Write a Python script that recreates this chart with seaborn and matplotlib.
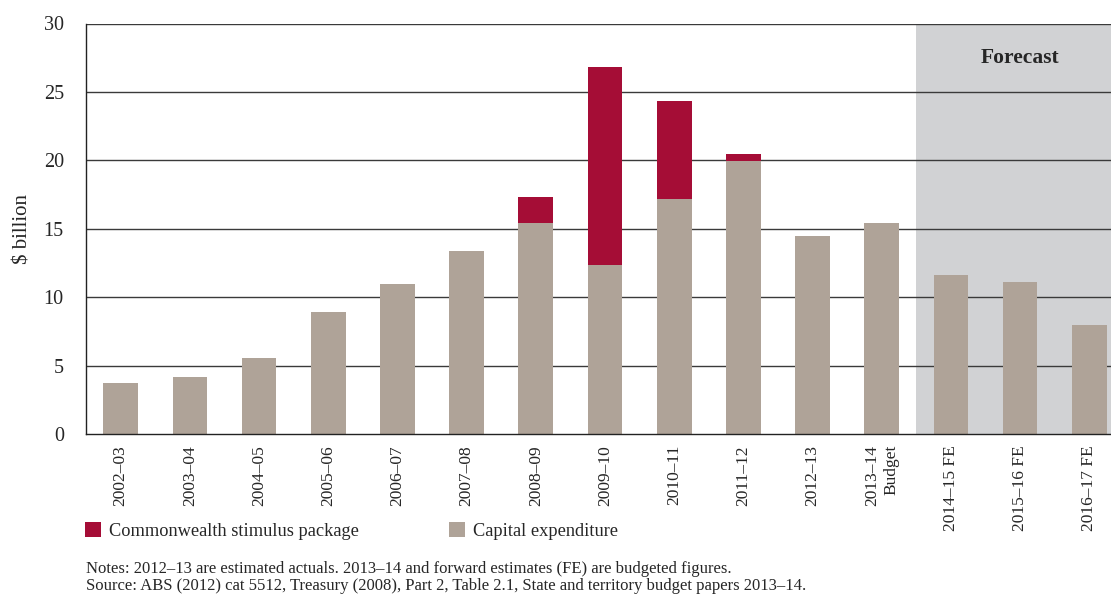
import matplotlib
matplotlib.use("Agg")
import matplotlib.pyplot as plt
from matplotlib.patches import Patch
from matplotlib.ticker import FixedLocator
import numpy as np
import pandas as pd
import seaborn as sns

# Financial years and values ($ billion)
years = ["2002–03", "2003–04", "2004–05", "2005–06", "2006–07", "2007–08",
         "2008–09", "2009–10", "2010–11", "2011–12", "2012–13",
         "2013–14\nBudget", "2014–15 FE", "2015–16 FE", "2016–17 FE"]
capital_expenditure = [3.7, 4.2, 5.55, 8.9, 10.95, 13.35, 15.4, 12.35,
                       17.15, 19.95, 14.5, 15.45, 11.65, 11.1, 7.95]
stimulus = [0, 0, 0, 0, 0, 0, 1.9, 14.45, 7.15, 0.5, 0, 0, 0, 0, 0]
y_ticks = [0, 5, 10, 15, 20, 25, 30]
first_forecast = 12

RED = "#A50D36"
TAUPE = "#AFA398"
SHADE = "#D1D2D4"

sns.set_style("white")
plt.rcParams["font.family"] = ["Liberation Serif", "DejaVu Serif"]

df = pd.DataFrame({
    "year": years,
    "capex": capital_expenditure,
    "total": np.array(capital_expenditure) + np.array(stimulus),
})

fig = plt.figure(figsize=(11.11, 5.94), dpi=100)
W, H = 1111, 594
ax = fig.add_axes([86 / W, 1 - 434 / H, (1124 - 86) / W, (434 - 23.5) / H])

# Forecast period shading
ax.axvspan(first_forecast - 0.5, len(years) - 0.5, color=SHADE, zorder=0, lw=0)

# Stacked bars: total (stimulus on top) drawn first, capital expenditure over it
sns.barplot(data=df, x="year", y="total", color=RED, saturation=1,
            width=0.5, ax=ax, zorder=2, linewidth=0, edgecolor="none")
sns.barplot(data=df, x="year", y="capex", color=TAUPE, saturation=1,
            width=0.5, ax=ax, zorder=3, linewidth=0, edgecolor="none")

ax.set_xlim(-0.5, len(years) - 0.5)
ax.set_ylim(0, 30)
ax.set_yticks(y_ticks)
ax.set_yticklabels([str(v) for v in y_ticks])

# Horizontal gridlines
for v in y_ticks[1:]:
    ax.axhline(v, color="#3a3a3a", lw=1.0, zorder=1)

# Spines
for s in ["top", "right"]:
    ax.spines[s].set_visible(False)
for s in ["left", "bottom"]:
    ax.spines[s].set_color("#222222")
    ax.spines[s].set_linewidth(1.0)
    ax.spines[s].set_zorder(4)

ax.set_xlabel("")
ax.set_ylabel("$ billion", fontsize=15, labelpad=8)

ax.tick_params(axis="y", length=10, width=1.0, color="#222222",
               labelsize=14.5, pad=6)
ax.tick_params(axis="x", which="major", length=0, labelsize=12.5, pad=8)
ax.xaxis.set_minor_locator(FixedLocator(np.arange(-0.5, len(years), 1.0)))
ax.tick_params(axis="x", which="minor", length=8, width=1.0, color="#222222",
               direction="out")
for lab in ax.get_xticklabels():
    lab.set_rotation(90)
    lab.set_va("top")
    lab.set_ha("center")
    lab.set_multialignment("right")

ax.text((first_forecast - 0.5 + len(years) - 0.5) / 2, 27.5, "Forecast",
        ha="center", va="center", fontsize=15.5, fontweight="bold", zorder=5)

handles = [Patch(facecolor=RED, edgecolor="none", label="Commonwealth stimulus package"),
           Patch(facecolor=TAUPE, edgecolor="none", label="Capital expenditure")]
fig.legend(handles=handles, loc="center left", ncol=2, frameon=False,
           bbox_to_anchor=(85 / W, 1 - 531 / H), fontsize=13.2,
           handlelength=0.88, handleheight=0.85, handletextpad=0.45,
           columnspacing=4.9, borderpad=0, borderaxespad=0)

fig.text(86 / W, 1 - 573 / H,
         "Notes: 2012–13 are estimated actuals. 2013–14 and forward estimates (FE) are budgeted figures.",
         fontsize=12, va="baseline", ha="left")
fig.text(86 / W, 1 - 590 / H,
         "Source: ABS (2012) cat 5512, Treasury (2008), Part 2, Table 2.1, State and territory budget papers 2013–14.",
         fontsize=12, va="baseline", ha="left")

fig.savefig("out.png", dpi=100)
